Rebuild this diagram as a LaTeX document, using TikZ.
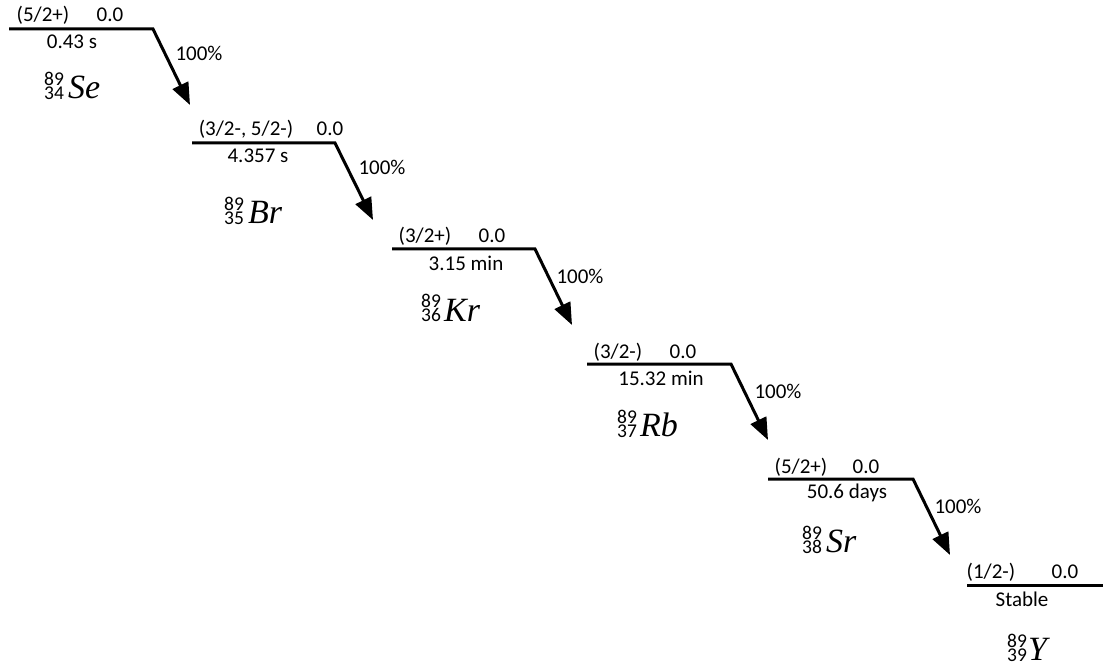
\documentclass[tikz,border=0pt]{standalone}
\usepackage{fontspec}
\setmainfont{Carlito}
\newfontfamily\elfont{Liberation Serif}
\usetikzlibrary{arrows.meta}
\tikzset{
  lvl/.style={line width=3pt, line join=miter},
  decay/.style={lvl, -{Triangle[length=22pt,width=17pt]}},
  lab/.style={font=\fontsize{21}{24}\selectfont, inner sep=0pt, anchor=base},
  numb/.style={font=\fontsize{19.5}{20}\selectfont, inner sep=0pt, anchor=base west},
  elem/.style={font=\elfont\itshape\fontsize{34}{35}\selectfont, inner sep=0pt, anchor=base west}
}
% #1 name, #2 left of digits, #3 baseline of symbol, #4 A, #5 Z, #6 symbol, #7 symbol offset
\newcommand\nuclide[7]{%
  \node[numb] (#1-a) at ({#2-1},{#3-13}) {#4};
  \node[numb] (#1-z) at ({#2-1},{#3+1}) {#5};
  \node[elem] (#1-s) at ({#2+#7},{#3}) {#6};
}
\begin{document}
\begin{tikzpicture}[x=1pt,y=-1pt]
\useasboundingbox (0,0) rectangle (1103,668);
% Se
\coordinate (se-l) at (9,29); \coordinate (se-r) at (153,29); \coordinate (se-tip) at (190,105);
\draw[decay] (se-l) -- (se-r) -- (se-tip);
\node[lab] (se-jp) at (43,22) {(5/2+)};
\node[lab] (se-e) at (110,22) {0.0};
\node[lab] (se-t) at (72,49) {0.43 s};
\node[lab] (se-p) at (199,61) {100\%};
\nuclide{se}{45}{99}{89}{34}{Se}{23}
% Br
\coordinate (br-l) at (192,143); \coordinate (br-r) at (335,143); \coordinate (br-tip) at (373,220);
\draw[decay] (br-l) -- (br-r) -- (br-tip);
\node[lab] (br-jp) at (246,136) {(3/2-, 5/2-)};
\node[lab] (br-e) at (330,136) {0.0};
\node[lab] (br-t) at (258,163) {4.357 s};
\node[lab] (br-p) at (382,175) {100\%};
\nuclide{br}{225}{224}{89}{35}{Br}{23}
% Kr
\coordinate (kr-l) at (392,249); \coordinate (kr-r) at (535,249); \coordinate (kr-tip) at (572,325);
\draw[decay] (kr-l) -- (kr-r) -- (kr-tip);
\node[lab] (kr-jp) at (425,243) {(3/2+)};
\node[lab] (kr-e) at (492,243) {0.0};
\node[lab] (kr-t) at (466,271) {3.15 min};
\node[lab] (kr-p) at (580,284) {100\%};
\nuclide{kr}{422}{321}{89}{36}{Kr}{22}
% Rb
\coordinate (rb-l) at (587,364); \coordinate (rb-r) at (731,364); \coordinate (rb-tip) at (768,440);
\draw[decay] (rb-l) -- (rb-r) -- (rb-tip);
\node[lab] (rb-jp) at (618,358) {(3/2-)};
\node[lab] (rb-e) at (683,358) {0.0};
\node[lab] (rb-t) at (661,385) {15.32 min};
\node[lab] (rb-p) at (778,398) {100\%};
\nuclide{rb}{618}{436}{89}{37}{Rb}{22}
% Sr
\coordinate (sr-l) at (768,479); \coordinate (sr-r) at (913,479); \coordinate (sr-tip) at (950,555);
\draw[decay] (sr-l) -- (sr-r) -- (sr-tip);
\node[lab] (sr-jp) at (801,473) {(5/2+)};
\node[lab] (sr-e) at (866,473) {0.0};
\node[lab] (sr-t) at (847,498) {50.6 days};
\node[lab] (sr-p) at (958,513) {100\%};
\nuclide{sr}{803}{552}{89}{38}{Sr}{23}
% Y
\coordinate (y-l) at (967,585); \coordinate (y-r) at (1103,585);
\draw[lvl] (y-l) -- (y-r);
\node[lab] (y-jp) at (991,578) {(1/2-)};
\node[lab] (y-e) at (1065,578) {0.0};
\node[lab] (y-t) at (1022,606) {Stable};
\nuclide{y}{1008}{660}{89}{39}{Y}{20}
\end{tikzpicture}
\end{document}
